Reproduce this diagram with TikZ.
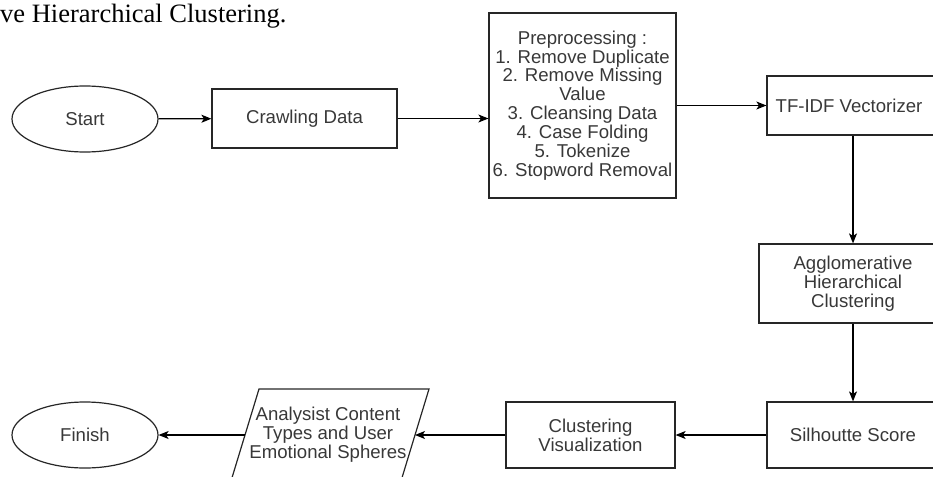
\documentclass[tikz,border=0pt]{standalone}
\usepackage{fontspec}
\setmainfont{Liberation Serif}
\newfontfamily\boxfont{Liberation Sans}
\usetikzlibrary{arrows.meta,shapes.geometric,calc}
\tikzset{
  base/.style={draw=black!85, line width=1.2pt, text=black!78, align=center, inner sep=0pt,
    font=\boxfont\fontsize{18.6}{18.9}\selectfont},
  procbox/.style={base, rectangle, minimum width=#1},
  termin/.style={base, ellipse, minimum width=146pt, minimum height=66pt},
  conn/.style={line width=1.2pt, draw=black, -{Stealth[length=10pt,width=8pt,inset=2.5pt]}},
}
\begin{document}
\begin{tikzpicture}[x=1pt,y=-1pt]
\useasboundingbox (0,0) rectangle (933,476);
\clip (0,0) rectangle (933,476);
\node[anchor=base west, font=\fontsize{26.5}{28}\selectfont, inner sep=0pt] (title) at (0,23) {ve Hierarchical Clustering.};

\node[termin] (start) at (85,119) {Start};
\node[procbox=185pt, minimum height=59pt] (crawl) at (304.5,118.5) {Crawling Data};
\node[procbox=187pt, minimum height=185pt] (pre) at (582.5,105.5) {Preprocessing :\\1. Remove Duplicate\\2. Remove Missing\\Value\\3. Cleansing Data\\4. Case Folding\\5. Tokenize\\6. Stopword Removal};
\node[procbox=172pt, minimum height=59pt] (tfidf) at (853,105.5) {\hspace*{-8pt}TF-IDF Vectorizer};
\node[procbox=188pt, minimum height=79pt] (agg) at (853,283.5) {Agglomerative\\Hierarchical\\Clustering};
\node[procbox=172pt, minimum height=66pt] (sil) at (853,435) {Silhoutte Score};
\node[procbox=169pt, minimum height=66pt] (vis) at (590.5,435) {Clustering\\Visualization};

% parallelogram
\draw[draw=black!85, line width=1.2pt] (259,389) -- (429,389) -- (401,481) -- (231,481) -- cycle;
\coordinate (pgR) at (415,435);
\coordinate (pgL) at (245,435);
\node[base, draw=none] (pg) at (328,435) {Analysist Content\\Types and User\\Emotional Spheres};

\node[termin] (finish) at (85,435) {Finish};

\draw[conn] (start) -- (crawl);
\draw[conn] (crawl.east) -- (crawl.east -| pre.west);
\draw[conn] (pre.east |- tfidf.west) -- (tfidf.west);
\draw[conn] (tfidf) -- (agg);
\draw[conn] (agg) -- (sil);
\draw[conn] (sil) -- (vis);
\draw[conn] (vis) -- (pgR);
\draw[conn] (pgL) -- (finish);
\end{tikzpicture}
\end{document}
